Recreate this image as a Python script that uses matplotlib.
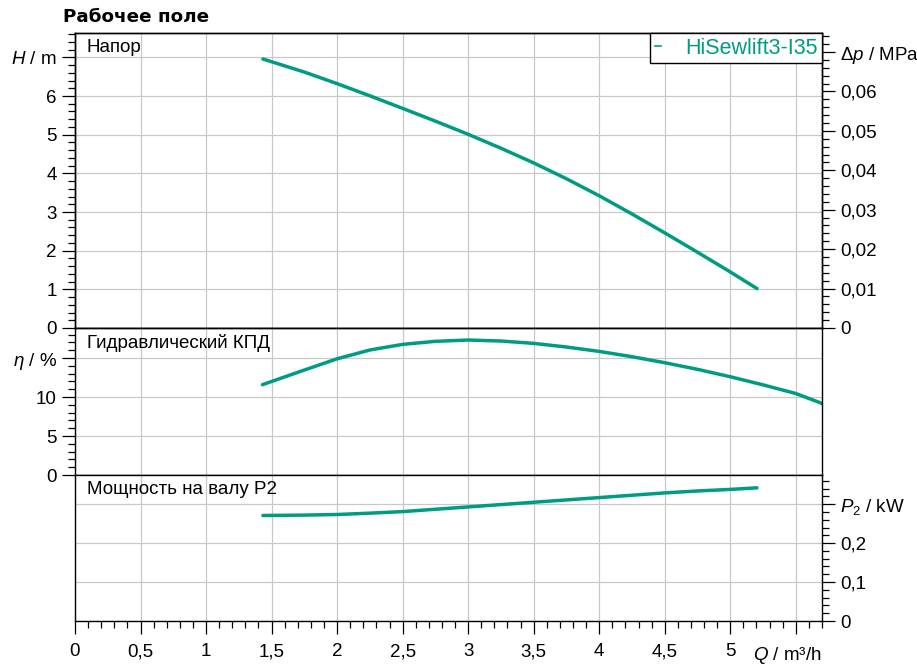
import matplotlib
matplotlib.use("Agg")
from matplotlib import pyplot as plt
from matplotlib.ticker import MultipleLocator, FixedLocator, FixedFormatter
from matplotlib.lines import Line2D

plt.rcParams['font.family'] = ['Liberation Sans', 'DejaVu Sans']
plt.rcParams['mathtext.fontset'] = 'custom'
plt.rcParams['mathtext.rm'] = 'Liberation Sans'
plt.rcParams['mathtext.it'] = 'Liberation Sans:italic'

# Data
q_head = [1.434, 1.75, 2.0, 2.25, 2.5, 2.75, 3.0, 3.25, 3.5, 3.75, 4.0, 4.25, 4.5, 4.75, 5.0, 5.204]
head = [6.957, 6.62, 6.32, 6.005, 5.68, 5.35, 5.01, 4.65, 4.27, 3.86, 3.42, 2.95, 2.46, 1.96, 1.45, 1.02]

q_eff = [1.43, 1.75, 2.0, 2.25, 2.5, 2.75, 3.0, 3.25, 3.5, 3.75, 4.0, 4.25, 4.5, 4.75, 5.0, 5.25, 5.5, 5.72]
eff = [11.58, 13.46, 14.9, 16.03, 16.75, 17.14, 17.31, 17.18, 16.88, 16.41, 15.85, 15.17, 14.4, 13.55,
       12.6, 11.56, 10.45, 9.05]

q_pow = [1.434, 1.75, 2.0, 2.25, 2.5, 2.75, 3.0, 3.25, 3.5, 3.75, 4.0, 4.25, 4.5, 4.75, 5.0, 5.204]
power = [0.271, 0.272, 0.2735, 0.277, 0.281, 0.287, 0.293, 0.299, 0.305, 0.311, 0.317, 0.323, 0.329,
         0.334, 0.338, 0.342]

pump_name = "HiSewlift3-I35"
teal = "#009c82"
grid_c = "#c8c8c8"
fs = 13.5

q_ticks = [0, 0.5, 1, 1.5, 2, 2.5, 3, 3.5, 4, 4.5, 5, 5.5]
q_labels = ["0", "0,5", "1", "1,5", "2", "2,5", "3", "3,5", "4", "4,5", "5", ""]

fig = plt.figure(figsize=(9.17, 6.65), dpi=100)
left, width = 75 / 917, 747 / 917
ax1 = fig.add_axes([left, 1 - 328 / 665, width, 295 / 665])
ax2 = fig.add_axes([left, 1 - 475 / 665, width, 147 / 665], sharex=ax1)
ax3 = fig.add_axes([left, 1 - 621 / 665, width, 146 / 665], sharex=ax1)

h_top = 7.63
ax1.set_xlim(0, 5.70)
ax1.set_ylim(0, h_top)
ax2.set_ylim(0, 18.85)
ax3.set_ylim(0, 0.375)

for ax in (ax1, ax2, ax3):
    ax.xaxis.set_major_locator(FixedLocator(q_ticks))
    ax.grid(True, color=grid_c, lw=0.9)
    ax.set_axisbelow(True)
    for s in ax.spines.values():
        s.set_linewidth(1.0)
        s.set_color("black")
    ax.tick_params(which='major', direction='out', length=9.5, width=0.9, pad=3.6, labelsize=fs)
    ax.tick_params(which='minor', direction='out', length=5, width=0.9)

# top panel: head
ax1.plot(q_head, head, color=teal, lw=2.5, solid_capstyle='round', solid_joinstyle='round')
ax1.yaxis.set_major_locator(FixedLocator([0, 1, 2, 3, 4, 5, 6, 7]))
ax1.yaxis.set_major_formatter(FixedFormatter(["0", "1", "2", "3", "4", "5", "6", "$H$ / m"]))
ax1.yaxis.set_minor_locator(MultipleLocator(0.2))
ax1.tick_params(axis='x', which='both', length=0, labelbottom=False)

axp = ax1.twinx()
axp.set_ylim(0, h_top * 0.00980665)
axp.yaxis.set_major_locator(FixedLocator([0, 0.01, 0.02, 0.03, 0.04, 0.05, 0.06, 0.07]))
axp.yaxis.set_major_formatter(FixedFormatter(["0", "0,01", "0,02", "0,03", "0,04", "0,05", "0,06",
                                              "$\\Delta p$ / MPa"]))
axp.yaxis.set_minor_locator(MultipleLocator(0.002))
axp.tick_params(which='major', direction='out', length=9.5, width=0.9, pad=3.6, labelsize=fs)
axp.tick_params(which='minor', direction='out', length=5, width=0.9)
for s in axp.spines.values():
    s.set_linewidth(1.0)

leg = axp.legend([Line2D([], [], color=teal, lw=1.2)], [pump_name], loc='upper right',
                 fontsize=15.5, labelcolor=teal, frameon=True, fancybox=False,
                 edgecolor='black', framealpha=1, borderaxespad=0, borderpad=0.22,
                 handlelength=0.3, handletextpad=1.1)
leg.get_frame().set_linewidth(1.0)

# middle panel: efficiency
ax2.plot(q_eff, eff, color=teal, lw=2.5, solid_capstyle='round', solid_joinstyle='round')
ax2.yaxis.set_major_locator(FixedLocator([0, 5, 10, 15]))
ax2.yaxis.set_major_formatter(FixedFormatter(["0", "5", "10", "$\\eta$ / %"]))
ax2.yaxis.set_minor_locator(MultipleLocator(1))
ax2.tick_params(axis='x', which='both', length=0, labelbottom=False)

# bottom panel: shaft power
ax3.plot(q_pow, power, color=teal, lw=2.5, solid_capstyle='round', solid_joinstyle='round')
ax3.yaxis.tick_right()
ax3.yaxis.set_major_locator(FixedLocator([0, 0.1, 0.2, 0.3]))
ax3.yaxis.set_major_formatter(FixedFormatter(["0", "0,1", "0,2", "$P_2$ / kW"]))
ax3.yaxis.set_minor_locator(MultipleLocator(0.02))
ax3.xaxis.set_major_formatter(FixedFormatter(q_labels))
ax3.xaxis.set_minor_locator(MultipleLocator(0.1))
ax3.tick_params(axis='x', which='major', pad=6.5)
ax3.annotate("$Q$ / m³/h", xy=(1, 0), xycoords='axes fraction', xytext=(0, -24),
             textcoords='offset pixels', ha='right', va='top', fontsize=fs)

# panel captions
for ax, name in ((ax1, "Напор"), (ax2, "Гидравлический КПД"), (ax3, "Мощность на валу P2")):
    ax.annotate(name, xy=(0, 1), xycoords='axes fraction', xytext=(12, -15),
                textcoords='offset pixels', ha='left', va='center', fontsize=fs)

fig.text(63 / 917, 1 - 17 / 665, "Рабочее поле", fontsize=13.2, fontweight='bold',
         family='DejaVu Sans', ha='left', va='center')

fig.savefig("out.png", dpi=100)
